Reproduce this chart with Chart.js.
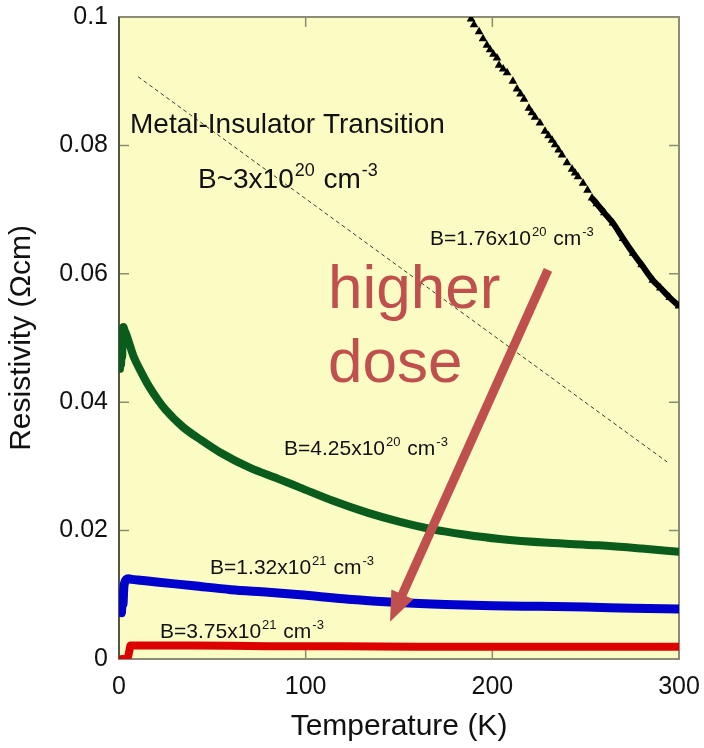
<!DOCTYPE html>
<html>
<head>
<meta charset="utf-8">
<script src="https://cdn.jsdelivr.net/npm/chart.js@4.4.1/dist/chart.umd.min.js"></script>
<style>
  html, body { margin: 0; padding: 0; background: #fff; }
  #plot { display: block; }
</style>
</head>
<body>
<canvas id="plot" width="704" height="748"></canvas>
<script>
// resistivity vs temperature for four boron doses
var blackT = [188.6, 190.2, 192.9, 195.0, 197.1, 198.8, 200.6, 202.5, 203.6, 205.8, 207.9, 211, 213.2, 215.1, 217, 219.6, 221.2, 222.9, 225.5, 228.2, 230.1, 232, 233.6, 235.5, 237.3, 240, 242.7, 244.3, 245.9, 248.6, 251.0, 253.4, 256, 260, 264.6, 270, 275.4, 280, 286, 290, 295, 300];
var blackR = [0.0997, 0.0988, 0.0977, 0.0966, 0.0956, 0.0949, 0.0942, 0.0936, 0.0925, 0.0919, 0.0913, 0.0900, 0.0888, 0.0880, 0.0872, 0.0858, 0.0851, 0.0844, 0.0835, 0.0822, 0.0815, 0.0808, 0.0801, 0.0793, 0.0785, 0.0773, 0.0763, 0.0757, 0.0751, 0.0741, 0.0730, 0.0718, 0.0709, 0.0695, 0.0679, 0.0655, 0.0632, 0.0614, 0.0590, 0.0578, 0.0563, 0.0550];

var greenT = [0.5, 0.8, 1.1, 1.4, 1.7, 2.0, 2.4, 3, 4, 5, 6, 8, 11, 16, 21, 25, 34, 44, 54, 70, 85, 97, 115, 133, 150, 168, 185, 204, 230, 257, 280, 300];
var greenR = [0.0452, 0.0505, 0.0458, 0.0510, 0.0470, 0.0515, 0.0517, 0.0512, 0.0505, 0.0496, 0.0487, 0.0470, 0.0452, 0.0425, 0.0403, 0.0388, 0.0362, 0.0341, 0.0322, 0.0298, 0.0281, 0.0267, 0.0246, 0.0228, 0.0214, 0.0202, 0.0194, 0.0187, 0.0181, 0.0177, 0.0172, 0.0167];

var blueT = [0.5, 0.9, 1.3, 1.7, 2.1, 2.6, 3.2, 4, 5, 7, 10, 20, 40, 60, 80, 97, 123, 150, 175, 200, 225, 250, 275, 300];
var blueR = [0.0066, 0.0090, 0.0072, 0.0100, 0.0085, 0.0112, 0.0120, 0.0124, 0.0125, 0.0124, 0.0123, 0.0120, 0.0114, 0.0108, 0.0104, 0.0100, 0.0093, 0.0088, 0.0085, 0.0083, 0.0082, 0.0081, 0.0079, 0.0078];

var redT = [1.5, 3, 4.5, 5.5, 6.2, 8, 15, 40, 80, 120, 160, 200, 250, 300];
var redR = [0.0000, 0.0000, 0.0001, 0.0012, 0.0021, 0.0021, 0.0021, 0.0021, 0.0020, 0.0020, 0.0019, 0.0019, 0.0019, 0.0019];

// metal-insulator boundary guide
var mitT = [10.2, 293.6];
var mitR = [0.0907, 0.0307];

var xTicks = ['0', '100', '200', '300'];
var yTicks = ['0', '0.02', '0.04', '0.06', '0.08', '0.1'];

// text labels: [text, T, rho, size] (left edge / baseline)
var notes = [
  ['Metal-Insulator Transition', 5.9, 0.0819, 28],
  ['B~3x10^{20} cm^{-3}', 42.3, 0.0734, 28],
  ['B=1.76x10^{20} cm^{-3}', 166.6, 0.0645, 21],
  ['B=4.25x10^{20} cm^{-3}', 88.4, 0.0318, 21],
  ['B=1.32x10^{21} cm^{-3}', 48.8, 0.0132, 21],
  ['B=3.75x10^{21} cm^{-3}', 22, 0.0033, 21]
];
var doseText = ['higher', 'dose'];
var doseAt = [112, 0.0547, 0.0431];
var arrowFrom = [229.8, 0.0606];
var arrowTo = [145.2, 0.0058];

var FONT = '"Liberation Sans", Arial, Helvetica, sans-serif';

function pts(xs, ys) {
  return xs.map(function (x, i) { return { x: x, y: ys[i] }; });
}

function richText(ctx, text, x, y, size) {
  var parts = text.split(/(\^\{[^}]*\})/);
  var cx = x;
  parts.forEach(function (p) {
    if (!p) return;
    if (p.indexOf('^{') === 0) {
      var s = p.slice(2, -1);
      var ss = Math.round(size * 0.64);
      ctx.font = ss + 'px ' + FONT;
      ctx.fillText(s, cx + 1, y - size * 0.42);
      cx += ctx.measureText(s).width + 2;
    } else {
      ctx.font = size + 'px ' + FONT;
      ctx.fillText(p, cx, y);
      cx += ctx.measureText(p).width;
    }
  });
}

var framePlugin = {
  id: 'frame',
  beforeDraw: function (chart) {
    var ctx = chart.ctx, a = chart.chartArea;
    ctx.save();
    ctx.fillStyle = '#ffffff';
    ctx.fillRect(0, 0, chart.width, chart.height);
    ctx.fillStyle = '#fbfcc3';
    ctx.fillRect(a.left, a.top, a.right - a.left, a.bottom - a.top);
    ctx.restore();
  },
  beforeDatasetsDraw: function (chart) {
    var ctx = chart.ctx, a = chart.chartArea;
    var xs = chart.scales.x, ys = chart.scales.y;
    ctx.save();
    ctx.strokeStyle = '#8c8c74';
    ctx.lineWidth = 1.5;
    var len = 10;
    xs.ticks.forEach(function (t) {
      var px = xs.getPixelForValue(t.value);
      ctx.beginPath();
      ctx.moveTo(px, a.bottom); ctx.lineTo(px, a.bottom - len);
      ctx.moveTo(px, a.top); ctx.lineTo(px, a.top + len);
      ctx.stroke();
    });
    ys.ticks.forEach(function (t) {
      var py = ys.getPixelForValue(t.value);
      ctx.beginPath();
      ctx.moveTo(a.left, py); ctx.lineTo(a.left + len, py);
      ctx.moveTo(a.right, py); ctx.lineTo(a.right - len, py);
      ctx.stroke();
    });
    ctx.lineWidth = 2;
    ctx.strokeRect(a.left, a.top, a.right - a.left, a.bottom - a.top);
    ctx.strokeStyle = '#555544';
    ctx.beginPath();
    ctx.moveTo(a.left, a.top); ctx.lineTo(a.left, a.bottom);
    ctx.stroke();
    ctx.restore();
  },
  afterDatasetsDraw: function (chart) {
    var ctx = chart.ctx;
    var xs = chart.scales.x, ys = chart.scales.y;
    ctx.save();
    ctx.fillStyle = '#111';
    ctx.textBaseline = 'alphabetic';
    notes.forEach(function (n) {
      richText(ctx, n[0], xs.getPixelForValue(n[1]), ys.getPixelForValue(n[2]), n[3]);
    });

    // "higher dose" with arrow
    ctx.fillStyle = '#c0504d';
    ctx.font = '62px ' + FONT;
    ctx.fillText(doseText[0], xs.getPixelForValue(doseAt[0]), ys.getPixelForValue(doseAt[1]));
    ctx.fillText(doseText[1], xs.getPixelForValue(doseAt[0]), ys.getPixelForValue(doseAt[2]));

    var x0 = xs.getPixelForValue(arrowFrom[0]), y0 = ys.getPixelForValue(arrowFrom[1]);
    var x1 = xs.getPixelForValue(arrowTo[0]), y1 = ys.getPixelForValue(arrowTo[1]);
    var ang = Math.atan2(y1 - y0, x1 - x0);
    var head = 30, half = 12;
    var bx = x1 - head * Math.cos(ang), by = y1 - head * Math.sin(ang);
    ctx.strokeStyle = '#c0504d';
    ctx.lineWidth = 9;
    ctx.beginPath();
    ctx.moveTo(x0, y0); ctx.lineTo(bx + 4 * Math.cos(ang), by + 4 * Math.sin(ang));
    ctx.stroke();
    ctx.beginPath();
    ctx.moveTo(x1, y1);
    ctx.lineTo(bx + half * Math.sin(ang), by - half * Math.cos(ang));
    ctx.lineTo(bx - half * Math.sin(ang), by + half * Math.cos(ang));
    ctx.closePath();
    ctx.fill();
    ctx.restore();
  }
};

new Chart(document.getElementById('plot'), {
  type: 'scatter',
  data: {
    datasets: [
      {
        data: pts(mitT, mitR),
        showLine: true,
        borderColor: '#3a3a3a',
        borderWidth: 1,
        borderDash: [4, 3],
        pointRadius: 0
      },
      {
        data: pts(blackT, blackR),
        showLine: true,
        borderColor: '#000',
        borderWidth: 6,
        cubicInterpolationMode: 'monotone',
        segment: {
          borderColor: function (c) { return c.p0.parsed.x >= 252 ? '#000' : 'rgba(0,0,0,0)'; }
        },
        pointStyle: 'triangle',
        pointRadius: 5,
        pointBackgroundColor: '#000',
        pointBorderColor: '#000',
        pointBorderWidth: 0
      },
      {
        data: pts(greenT, greenR),
        showLine: true,
        borderColor: '#0a5c1c',
        borderWidth: 8,
        borderCapStyle: 'round',
        borderJoinStyle: 'round',
        cubicInterpolationMode: 'monotone',
        pointRadius: 0
      },
      {
        data: pts(blueT, blueR),
        showLine: true,
        borderColor: '#0000cc',
        borderWidth: 9,
        borderJoinStyle: 'round',
        cubicInterpolationMode: 'monotone',
        pointRadius: 0
      },
      {
        data: pts(redT, redR),
        showLine: true,
        borderColor: '#dd0000',
        borderWidth: 8,
        borderCapStyle: 'round',
        borderJoinStyle: 'round',
        cubicInterpolationMode: 'monotone',
        pointRadius: 0
      }
    ]
  },
  options: {
    responsive: false,
    animation: false,
    devicePixelRatio: 1,
    layout: { padding: { top: 17, right: 25, left: 0, bottom: 0 } },
    plugins: { legend: { display: false }, tooltip: { enabled: false } },
    scales: {
      x: {
        type: 'linear',
        min: 0, max: 300,
        grid: { display: false },
        border: { display: false },
        ticks: {
          stepSize: 100,
          padding: 5,
          color: '#111',
          font: { family: FONT, size: 25 },
          maxRotation: 0,
          callback: function (v) { return xTicks[Math.round(v / 100)]; }
        },
        title: {
          display: true,
          text: 'Temperature (K)',
          color: '#111',
          font: { family: FONT, size: 30 },
          padding: { top: 0, bottom: 3 }
        },
        afterFit: function (s) {
          s.height = 89;
          s.paddingLeft = 0;
          s.paddingRight = 0;
        }
      },
      y: {
        type: 'linear',
        min: 0, max: 0.1,
        grid: { display: false },
        border: { display: false },
        ticks: {
          stepSize: 0.02,
          padding: 3,
          color: '#111',
          font: { family: FONT, size: 25 },
          callback: function (v) { return yTicks[Math.round(v / 0.02)]; }
        },
        title: {
          display: true,
          text: 'Resistivity (Ωcm)',
          color: '#111',
          font: { family: FONT, size: 30 },
          padding: { top: 4, bottom: 0 }
        },
        afterFit: function (s) {
          s.width = 119;
          s.paddingTop = 0;
          s.paddingBottom = 0;
        }
      }
    }
  },
  plugins: [framePlugin]
});
</script>
</body>
</html>
